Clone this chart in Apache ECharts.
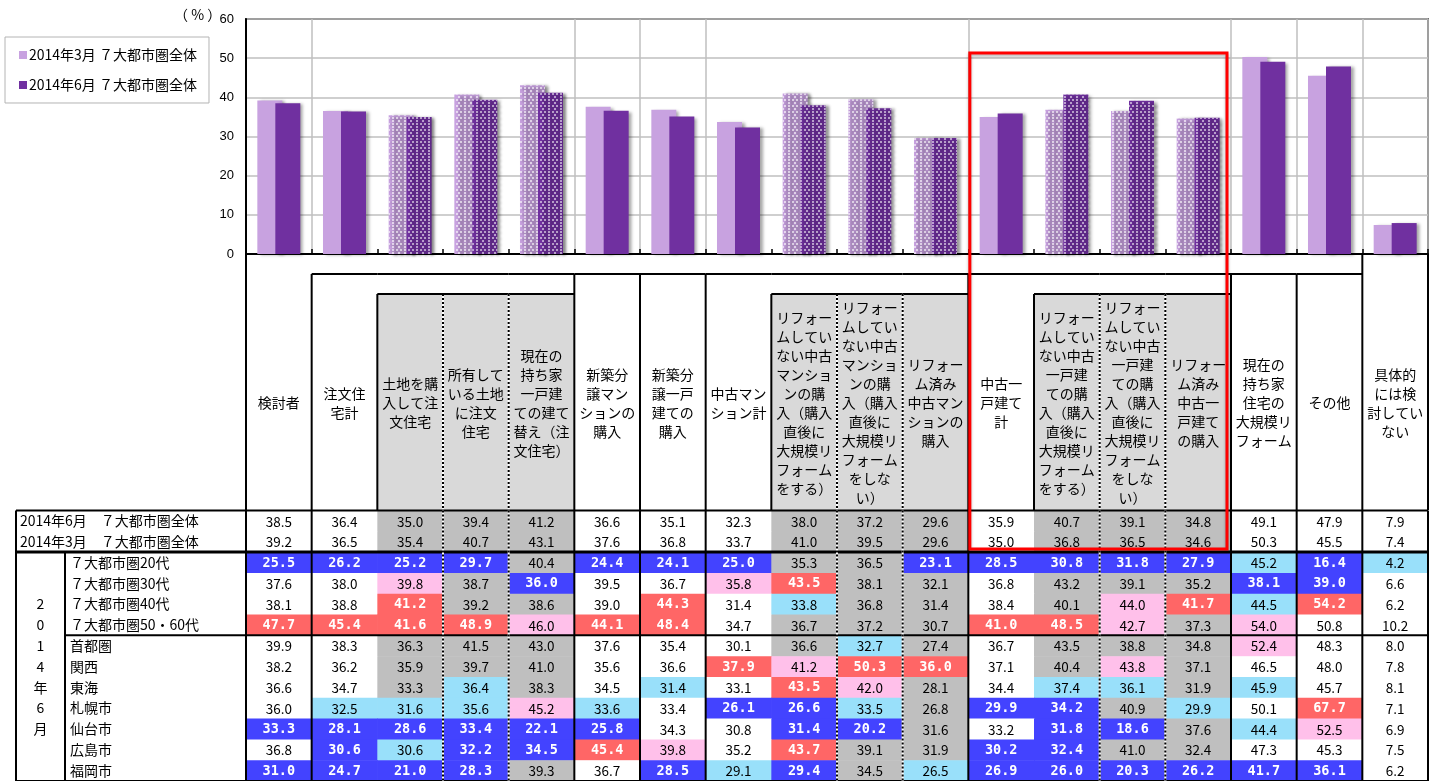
<!DOCTYPE html>
<html><head><meta charset="utf-8">
<script src="https://cdn.jsdelivr.net/npm/echarts@6/dist/echarts.min.js"></script>
<style>html,body{margin:0;padding:0;background:#fff}#c{width:1440px;height:781px}</style>
</head><body><div id="c"></div>
<script>
const FONT = '"Noto Sans CJK JP", "Noto Sans", sans-serif';

// ---- categories & hierarchy ----
const categories = ['検討者','注文住宅計','土地を購入して注文住宅','所有している土地に注文住宅','現在の持ち家一戸建ての建て替え（注文住宅）','新築分譲マンションの購入','新築分譲一戸建ての購入','中古マンション計','リフォームしていない中古マンションの購入（購入直後に大規模リフォームをする）','リフォームしていない中古マンションの購入（購入直後に大規模リフォームをしない）','リフォーム済み中古マンションの購入','中古一戸建て計','リフォームしていない中古一戸建ての購入（購入直後に大規模リフォームをする）','リフォームしていない中古一戸建ての購入（購入直後に大規模リフォームをしない）','リフォーム済み中古一戸建ての購入','現在の持ち家住宅の大規模リフォーム','その他','具体的には検討していない'];
const headerLabels = ['検討者','注文住\n宅計','土地を購\n入して注\n文住宅','所有して\nいる土地\nに注文\n住宅','現在の\n持ち家\n一戸建\nての建て\n替え（注\n文住宅）','新築分\n譲マン\nションの\n購入','新築分\n譲一戸\n建ての\n購入','中古マン\nション計','リフォー\nムしてい\nない中古\nマンショ\nンの購\n入（購入\n直後に\n大規模リ\nフォーム\nをする）','リフォー\nムしてい\nない中古\nマンショ\nンの購\n入（購入\n直後に\n大規模リ\nフォーム\nをしな\nい）','リフォー\nム済み\n中古マン\nションの\n購入','中古一\n戸建て\n計','リフォー\nムしてい\nない中古\n一戸建\nての購\n入（購入\n直後に\n大規模リ\nフォーム\nをする）','リフォー\nムしてい\nない中古\n一戸建\nての購\n入（購入\n直後に\n大規模リ\nフォーム\nをしな\nい）','リフォー\nム済み\n中古一\n戸建て\nの購入','現在の\n持ち家\n住宅の\n大規模リ\nフォーム','その他','具体的\nには検\n討してい\nない'];
const categoryLevel = [0,1,2,2,2,1,1,1,2,2,2,1,2,2,2,1,1,0];
const highlightFrom = 11, highlightTo = 14;

// ---- bar series ----
const seriesNames = ['2014年3月 ７大都市圏全体','2014年6月 ７大都市圏全体'];
const mar2014 = [39.2,36.5,35.4,40.7,43.1,37.6,36.8,33.7,41.0,39.5,29.6,35.0,36.8,36.5,34.6,50.3,45.5,7.4];
const jun2014 = [38.5,36.4,35.0,39.4,41.2,36.6,35.1,32.3,38.0,37.2,29.6,35.9,40.7,39.1,34.8,49.1,47.9,7.9];
const yMin = 0, yMax = 60, yInterval = 10;

// ---- table rows ----
const rowLabels = ['2014年6月　７大都市圏全体','2014年3月　７大都市圏全体','７大都市圏20代','７大都市圏30代','７大都市圏40代','７大都市圏50・60代','首都圏','関西','東海','札幌市','仙台市','広島市','福岡市'];
const groupLabel = '2014年6月';
const row20s   = [25.5,26.2,25.2,29.7,40.4,24.4,24.1,25.0,35.3,36.5,23.1,28.5,30.8,31.8,27.9,45.2,16.4,4.2];
const row30s   = [37.6,38.0,39.8,38.7,36.0,39.5,36.7,35.8,43.5,38.1,32.1,36.8,43.2,39.1,35.2,38.1,39.0,6.6];
const row40s   = [38.1,38.8,41.2,39.2,38.6,39.0,44.3,31.4,33.8,36.8,31.4,38.4,40.1,44.0,41.7,44.5,54.2,6.2];
const row5060s = [47.7,45.4,41.6,48.9,46.0,44.1,48.4,34.7,36.7,37.2,30.7,41.0,48.5,42.7,37.3,54.0,50.8,10.2];
const rowShutoken  = [39.9,38.3,36.3,41.5,43.0,37.6,35.4,30.1,36.6,32.7,27.4,36.7,43.5,38.8,34.8,52.4,48.3,8.0];
const rowKansai    = [38.2,36.2,35.9,39.7,41.0,35.6,36.6,37.9,41.2,50.3,36.0,37.1,40.4,43.8,37.1,46.5,48.0,7.8];
const rowTokai     = [36.6,34.7,33.3,36.4,38.3,34.5,31.4,33.1,43.5,42.0,28.1,34.4,37.4,36.1,31.9,45.9,45.7,8.1];
const rowSapporo   = [36.0,32.5,31.6,35.6,45.2,33.6,33.4,26.1,26.6,33.5,26.8,29.9,34.2,40.9,29.9,50.1,67.7,7.1];
const rowSendai    = [33.3,28.1,28.6,33.4,22.1,25.8,34.3,30.8,31.4,20.2,31.6,33.2,31.8,18.6,37.6,44.4,52.5,6.9];
const rowHiroshima = [36.8,30.6,30.6,32.2,34.5,45.4,39.8,35.2,43.7,39.1,31.9,30.2,32.4,41.0,32.4,47.3,45.3,7.5];
const rowFukuoka   = [31.0,24.7,21.0,28.3,39.3,36.7,28.5,29.1,29.4,34.5,26.5,26.9,26.0,20.3,26.2,41.7,36.1,6.2];
// significance: H=much higher, h=higher, l=lower, L=much lower, .=none
const sigNone      = '..................';
const sig20s       = 'LLLL.LLL..LLLLLlLl';
const sig30s       = '..h.L..hH......LL.';
const sig40s       = '..H...H.l....hHlH.';
const sig5060s     = 'HHHHhHH....HHh.h..';
const sigShutoken  = '.........l.....h..';
const sigKansai    = '.......HhHH..h....';
const sigTokai     = '...l..l.Hh..ll.l..';
const sigSapporo   = '.lllhl.LLl.LL.l.H.';
const sigSendai    = 'LLLLLL..LL..LL.lh.';
const sigHiroshima = '.LlLLHh.H..LL.....';
const sigFukuoka   = 'LLLL..LlL.lLLLLLL.';

const tableRows = [jun2014, mar2014, row20s, row30s, row40s, row5060s, rowShutoken, rowKansai, rowTokai, rowSapporo, rowSendai, rowHiroshima, rowFukuoka];
const sigRows = [sigNone, sigNone, sig20s, sig30s, sig40s, sig5060s, sigShutoken, sigKansai, sigTokai, sigSapporo, sigSendai, sigHiroshima, sigFukuoka];

// ---- styles ----
const LIGHT = '#C8A2E0', DARK = '#7030A0';
const decalOf = c => ({symbol:'rect', symbolSize:1, color:c, dashArrayX:[[2,1.5],[0,1.75,2,1.75]], dashArrayY:[2,1], maxTileWidth:64, maxTileHeight:64});
const sigStyle = {
  H:{fill:'#FF6666', text:'#FFFFFF', bold:true},
  h:{fill:'#FFC0EA', text:'#000000', bold:false},
  l:{fill:'#99E0FA', text:'#000000', bold:false},
  L:{fill:'#4343FF', text:'#FFFFFF', bold:true}
};

const cellData = [];
tableRows.forEach((row, r) => row.forEach((v, c) => cellData.push([c, r, v])));

function seg(x1, y1, x2, y2, w) {
  return {type:'line', shape:{x1, y1, x2, y2}, style:{stroke:'#000', lineWidth:w}};
}
function dotted(x, y1, y2) {
  return [
    {type:'line', shape:{x1:x, y1, x2:x, y2}, style:{stroke:'#FFF', lineWidth:2}},
    {type:'line', shape:{x1:x, y1, x2:x, y2}, style:{stroke:'#000', lineWidth:2, lineDash:[2,2]}}
  ];
}

function renderCell(params, api) {
  const d = cellData[params.dataIndex];
  const c = d[0], r = d[1], v = d[2];
  const code = sigRows[r][c];
  const p = api.coord([c, r]);
  const s = api.size([1, 1]);
  let fill = categoryLevel[c] === 2 ? '#BFBFBF' : '#FFFFFF';
  let txt = '#000', bold = false;
  if (sigStyle[code]) { fill = sigStyle[code].fill; txt = sigStyle[code].text; bold = sigStyle[code].bold; }
  return {type:'group', children:[
    {type:'rect', shape:{x:p[0]-s[0]/2, y:p[1]-s[1]/2, width:s[0]+0.6, height:s[1]+0.6}, style:{fill}},
    {type:'text', x:p[0], y:p[1]+0.5, style:{text:v.toFixed(1), align:'center', verticalAlign:'middle', fill:txt,
      font: bold ? 'bold 13.5px "DejaVu Sans Mono", monospace' : '13.5px ' + FONT}}
  ]};
}

function renderTableLines(params, api) {
  const s = api.size([1, 1]); const bw = s[0], rh = s[1];
  const p = api.coord([0, 0]);
  const x0 = p[0] - bw/2, y0 = p[1] - rh/2;
  const n = categories.length, m = rowLabels.length;
  const bx = k => x0 + k*bw, ry = k => y0 + k*rh;
  const xL = x0 - 230, xG = x0 - 181;
  const ch = [];
  ch.push(seg(xL, ry(0), bx(n), ry(0), 2));
  ch.push(seg(xL, ry(2), bx(n), ry(2), 3));
  ch.push(seg(xG, ry(6), bx(n), ry(6), 2));
  ch.push(seg(xL, ry(m), bx(n), ry(m), 2));
  ch.push(seg(xL, ry(0), xL, ry(m), 2));
  ch.push(seg(xG, ry(2), xG, ry(m), 2));
  for (let k = 0; k <= n; k++) {
    if (k === 0 || k === n || categoryLevel[k] !== 2) ch.push(seg(bx(k), ry(0), bx(k), ry(m), 2));
    else if (categoryLevel[k-1] === 2) ch.push(...dotted(bx(k), ry(0), ry(m)));
  }
  Array.from(groupLabel).forEach((chr, j) => {
    ch.push({type:'text', x:(xL+xG)/2, y:ry(4+j)+rh/2, style:{text:chr, align:'center', verticalAlign:'middle', fill:'#000', font:'14px ' + FONT}});
  });
  return {type:'group', children:ch};
}

const headerTops = [0, 20, 40];
function renderHeader(params, api) {
  const i = params.dataIndex;
  const lvl = categoryLevel[i];
  const c = api.coord([i, 0]);
  const bw = api.size([1, 0])[0];
  const xL = c[0] - bw/2, xR = c[0] + bw/2;
  const yAt = v => api.coord([i, v])[1];
  const yTop = yAt(headerTops[lvl]), yBot = yAt(256);
  const ch = [];
  if (lvl === 2) ch.push({type:'rect', shape:{x:xL, y:yTop, width:bw+0.6, height:yBot-yTop}, style:{fill:'#D9D9D9'}});
  if (lvl >= 1) ch.push(seg(xL, yAt(20), xR, yAt(20), 2));
  if (lvl === 2) ch.push(seg(xL, yAt(40), xR, yAt(40), 2));
  if (lvl === 2 && categoryLevel[i-1] === 2) ch.push(...dotted(xL, yTop, yBot));
  else ch.push(seg(xL, yTop, xL, yBot, 2));
  if (i === categories.length - 1) ch.push(seg(xR, yTop, xR, yBot, 2));
  ch.push({type:'text', x:c[0], y:yAt(149), style:{text:headerLabels[i], align:'center', verticalAlign:'middle', lineHeight:19, fill:'#000', font:'14px ' + FONT}});
  return {type:'group', children:ch};
}

const shadow = {shadowBlur:3, shadowOffsetX:3, shadowOffsetY:1, shadowColor:'rgba(0,0,0,0.35)'};
const chart = echarts.init(document.getElementById('c'));
const option = {
  animation:false,
  textStyle:{fontFamily:FONT},
  legend:{
    orient:'vertical', left:5, top:37, itemWidth:8, itemHeight:8, itemGap:16, icon:'rect',
    padding:[11, 12, 11, 14], borderColor:'#B4B4B4', borderWidth:1,
    itemStyle:{shadowBlur:0, shadowOffsetX:0, shadowOffsetY:0},
    textStyle:{fontSize:14, color:'#000', fontFamily:FONT, padding:[0,0,0,-3]},
    data:seriesNames
  },
  grid:[
    {left:246, top:19, width:1182, height:235, show:true, borderColor:'#000', borderWidth:1.5},
    {left:246, top:510.5, width:1182, height:273},
    {left:246, top:254, width:1182, height:256.5}
  ],
  xAxis:[
    {gridIndex:0, type:'category', data:categories, boundaryGap:true,
     axisLine:{lineStyle:{color:'#000', width:2}},
     axisTick:{show:true, inside:true, length:5, interval:0, lineStyle:{color:'#000', width:1.5}},
     axisLabel:{show:false},
     splitLine:{show:true, interval:(idx) => idx > 0 && categoryLevel[idx] !== 2, lineStyle:{color:'#BFBFBF', width:1.5}}},
    {gridIndex:1, type:'category', data:categories, show:false},
    {gridIndex:2, type:'category', data:categories, show:false}
  ],
  yAxis:[
    {gridIndex:0, type:'value', min:yMin, max:yMax, interval:yInterval,
     axisLine:{show:true, lineStyle:{color:'#000', width:2}}, axisTick:{show:false},
     axisLabel:{fontSize:13, color:'#000', margin:12, fontFamily:'"Liberation Sans", Arial, sans-serif'},
     splitLine:{lineStyle:{color:'#BFBFBF', width:1.5}}},
    {gridIndex:1, type:'category', data:rowLabels, inverse:true,
     axisLine:{show:false}, axisTick:{show:false}, splitLine:{show:false},
     axisLabel:{interval:0, align:'left', margin:226, color:'#000',
       formatter:(v, i) => (i < 2 ? '{a|' : '{b|') + v + '}',
       rich:{a:{fontSize:14, fontFamily:FONT, color:'#000'}, b:{fontSize:14, fontFamily:FONT, color:'#000', padding:[0,0,0,50]}}}},
    {gridIndex:2, type:'value', min:0, max:256.5, inverse:true, show:false}
  ],
  series:[
    {type:'bar', name:seriesNames[0], xAxisIndex:0, yAxisIndex:0, barWidth:25, barGap:'-28%',
     itemStyle:Object.assign({color:LIGHT}, shadow),
     data:mar2014.map((v, i) => categoryLevel[i] === 2 ? {value:v, itemStyle:{decal:decalOf('rgba(255,255,255,0.6)')}} : v),
     emphasis:{disabled:true}},
    {type:'bar', name:seriesNames[1], xAxisIndex:0, yAxisIndex:0, barWidth:25, barGap:'-28%',
     itemStyle:Object.assign({color:DARK}, shadow),
     data:jun2014.map((v, i) => categoryLevel[i] === 2 ? {value:v, itemStyle:{decal:decalOf('rgba(255,255,255,0.55)')}} : v),
     emphasis:{disabled:true}},
    {type:'custom', name:'cells', xAxisIndex:1, yAxisIndex:1, data:cellData, encode:{x:0, y:1}, renderItem:renderCell, z:2, silent:true},
    {type:'custom', name:'tableLines', xAxisIndex:1, yAxisIndex:1, data:[[0,0]], encode:{x:0, y:1}, renderItem:renderTableLines, z:5, silent:true},
    {type:'custom', name:'header', xAxisIndex:2, yAxisIndex:2, data:headerLabels.map((t, i) => [i, 0]), encode:{x:0, y:1}, renderItem:renderHeader, z:4, silent:true}
  ]
};
chart.setOption(option);

// annotation frame around the highlighted group + unit label
const cx = k => chart.convertToPixel({xAxisIndex:0}, categories[k]);
const bw0 = cx(1) - cx(0);
const xa = cx(highlightFrom) - bw0/2 + 1.5;
const xb = cx(highlightTo) + bw0/2 - 4;
const ya = chart.convertToPixel({yAxisIndex:0}, 51.3);
const r0 = chart.convertToPixel({yAxisIndex:1}, rowLabels[0]);
const r1 = chart.convertToPixel({yAxisIndex:1}, rowLabels[1]);
const yb = r1 + (r1 - r0)/2 - 3;
chart.setOption({graphic:[
  {type:'rect', z:100, shape:{x:xa, y:ya, width:xb-xa, height:yb-ya},
   style:{fill:'none', stroke:'#FF0000', lineWidth:3, shadowBlur:3, shadowOffsetY:2, shadowColor:'rgba(0,0,0,0.3)'}},
  {type:'text', z:100, left:174, top:8, style:{text:'（ % ）', font:'14px ' + FONT, fill:'#000'}}
]});
</script></body></html>
